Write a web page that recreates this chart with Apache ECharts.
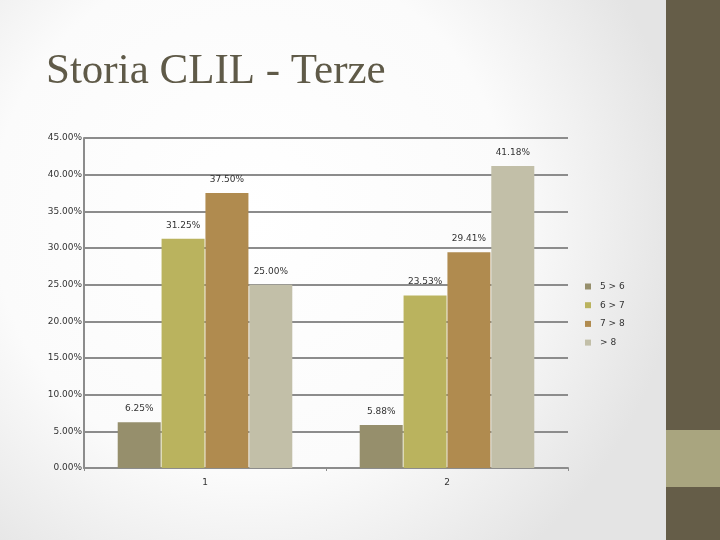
<!DOCTYPE html>
<html>
<head>
<meta charset="utf-8">
<script src="https://cdn.jsdelivr.net/npm/echarts@6/dist/echarts.min.js"></script>
<style>
  html, body { margin: 0; padding: 0; }
  #chart { width: 720px; height: 540px; }
</style>
</head>
<body>
<div id="chart"></div>
<script>
// dati
var categories = ['1', '2']
var seriesNames = ['5 > 6', '6 > 7', '7 > 8', '> 8']
var values = [
  [6.25, 5.88],
  [31.25, 23.53],
  [37.50, 29.41],
  [25.00, 41.18]
]
var colors = ['#968f6c', '#bab35e', '#b08b4f', '#c2bfa8']

var chart = echarts.init(document.getElementById('chart'))

var series = seriesNames.map(function (name, i) {
  return {
    name: name,
    type: 'bar',
    data: values[i],
    barWidth: 43,
    barGap: '2%',
    itemStyle: { color: colors[i] },
    label: {
      show: true,
      position: 'top',
      distance: 9,
      color: '#333',
      fontFamily: 'DejaVu Sans',
      fontSize: 9,
      formatter: function (p) { return p.value.toFixed(2) + '%' }
    }
  }
})

chart.setOption({
  backgroundColor: {
    type: 'radial', x: 0.35, y: 0.4, r: 0.8,
    colorStops: [
      { offset: 0, color: '#ffffff' },
      { offset: 0.6, color: '#fbfbfb' },
      { offset: 1, color: '#e4e4e4' }
    ]
  },
  animation: false,
  color: colors,
  title: {
    text: 'Storia CLIL - Terze',
    left: 41,
    top: 45,
    textStyle: {
      fontFamily: 'Liberation Serif',
      fontWeight: 'normal',
      fontSize: 43,
      color: '#5f5a48'
    }
  },
  graphic: [
    { type: 'rect', shape: { x: 666, y: 0, width: 54, height: 540 }, style: { fill: '#655d48' } },
    { type: 'rect', shape: { x: 666, y: 430, width: 54, height: 57 }, style: { fill: '#a9a57f' } }
  ],
  legend: {
    orient: 'vertical',
    left: 580,
    top: 277,
    itemWidth: 6,
    itemHeight: 6,
    itemGap: 9.7,
    icon: 'rect',
    textStyle: { fontFamily: 'DejaVu Sans', fontSize: 9, color: '#333', padding: [0, 0, 0, 4] },
    data: seriesNames
  },
  grid: { left: 84, right: 152, top: 138, bottom: 72 },
  xAxis: {
    type: 'category',
    data: categories,
    axisLine: { lineStyle: { color: '#8c8c8c', width: 2 } },
    axisTick: { show: true, interval: 0, length: 3, lineStyle: { color: '#8c8c8c' } },
    axisLabel: { color: '#333', fontFamily: 'DejaVu Sans', fontSize: 9, margin: 10 }
  },
  yAxis: {
    type: 'value',
    min: 0,
    max: 45,
    interval: 5,
    axisLine: { show: true, lineStyle: { color: '#8c8c8c', width: 2 } },
    axisTick: { show: false },
    splitLine: { lineStyle: { color: '#8c8c8c', width: 2 } },
    axisLabel: {
      color: '#333', fontFamily: 'DejaVu Sans', fontSize: 9, margin: 2,
      formatter: function (v) { return v.toFixed(2) + '%' }
    }
  },
  series: series
})
</script>
</body>
</html>
